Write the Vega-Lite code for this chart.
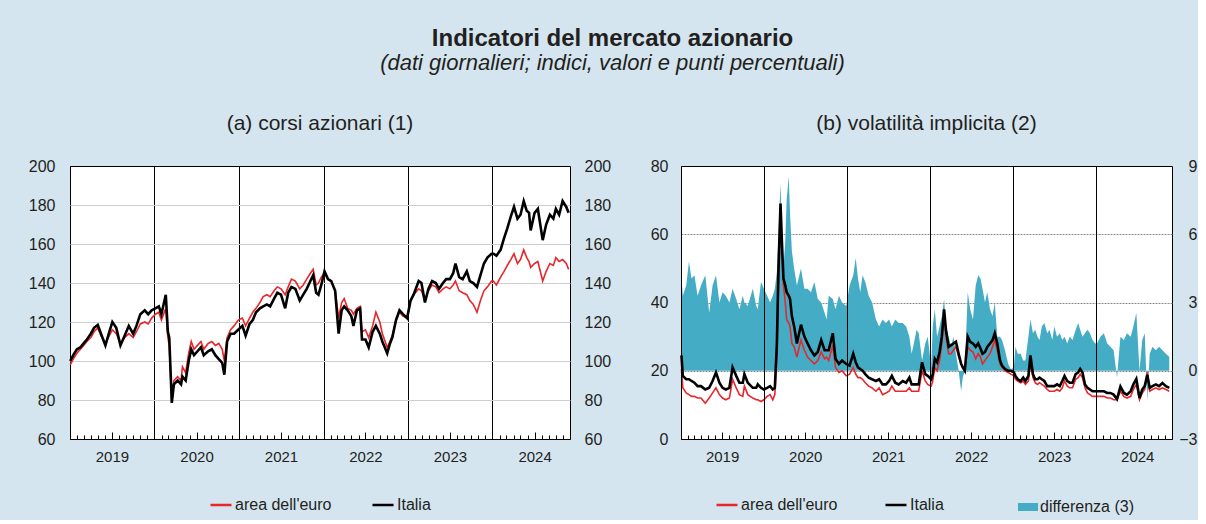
{
  "$schema": "https://vega.github.io/schema/vega-lite/v6.json",
  "background": "#d4e5ef",
  "padding": {"left": 10, "top": 26, "right": 0, "bottom": 0},
  "config": {
    "font": "Liberation Sans",
    "view": {"stroke": "#000000", "strokeWidth": 1, "fill": "#ffffff"},
    "axis": {"labelFont": "Liberation Sans", "labelColor": "#231f20", "labelFontSize": 16, "domain": false, "ticks": false, "grid": false, "title": null, "labelFlush": false},
    "legend": {"labelFont": "Liberation Sans", "labelColor": "#231f20", "labelFontSize": 16, "layout": {"bottom": {"anchor": "middle", "direction": "horizontal", "margin": 70}}},
    "title": {"font": "Liberation Sans", "fontSize": 21, "fontWeight": "normal", "color": "#231f20", "anchor": "middle", "offset": 24},
    "concat": {"spacing": 0}
  },
  "title": {"text": "Indicatori del mercato azionario", "subtitle": "(dati giornalieri; indici, valori e punti percentuali)", "fontSize": 24, "fontWeight": "bold", "color": "#231f20", "subtitleFont": "Liberation Sans", "subtitleFontSize": 22, "subtitleFontStyle": "italic", "subtitleColor": "#231f20", "subtitlePadding": 2, "anchor": "start", "align": "center", "dx": 602, "offset": 39},
  "spacing": 0,
  "resolve": {"scale": {"color": "independent", "fill": "independent"}, "legend": {"color": "independent", "fill": "independent"}},
  "hconcat": [
        {
          "width": 500,
          "height": 273,
          "title": {"text": "(a) corsi azionari (1)"},
          "data": {"values": [
            {"d":"2019-01-02","eu":98,"it":100},{"d":"2019-01-15","eu":101,"it":103},{"d":"2019-01-31","eu":104,"it":106},{"d":"2019-02-15","eu":106,"it":107},
            {"d":"2019-03-01","eu":108,"it":109},{"d":"2019-03-15","eu":110,"it":111},{"d":"2019-04-01","eu":112,"it":114},{"d":"2019-04-15","eu":115,"it":117},
            {"d":"2019-05-01","eu":117,"it":118.5},{"d":"2019-05-15","eu":113,"it":114},{"d":"2019-06-03","eu":109,"it":108},{"d":"2019-06-20","eu":113,"it":115},
            {"d":"2019-07-03","eu":116,"it":120},{"d":"2019-07-20","eu":114,"it":117},{"d":"2019-08-07","eu":109,"it":108},{"d":"2019-08-25","eu":112,"it":113},
            {"d":"2019-09-12","eu":114,"it":118},{"d":"2019-10-01","eu":112,"it":114},{"d":"2019-10-15","eu":115,"it":118},{"d":"2019-11-01","eu":119,"it":124},
            {"d":"2019-11-20","eu":120,"it":126},{"d":"2019-12-05","eu":119,"it":124},{"d":"2019-12-20","eu":122,"it":126},{"d":"2020-01-05","eu":124,"it":127},
            {"d":"2020-01-20","eu":125,"it":128},{"d":"2020-01-31","eu":121,"it":124},{"d":"2020-02-19","eu":127,"it":134},{"d":"2020-02-28","eu":112,"it":115},
            {"d":"2020-03-05","eu":108,"it":112},{"d":"2020-03-16","eu":79,"it":78.5},{"d":"2020-03-25","eu":90,"it":88},{"d":"2020-04-10","eu":92,"it":90},
            {"d":"2020-04-25","eu":90,"it":88},{"d":"2020-05-01","eu":97,"it":92},{"d":"2020-05-15","eu":94,"it":90},{"d":"2020-05-28","eu":104,"it":100},
            {"d":"2020-06-08","eu":110,"it":106},{"d":"2020-06-20","eu":106,"it":103},{"d":"2020-07-05","eu":108,"it":105},{"d":"2020-07-20","eu":110,"it":107},
            {"d":"2020-08-01","eu":106,"it":103},{"d":"2020-08-20","eu":109,"it":105},{"d":"2020-09-05","eu":110,"it":106},{"d":"2020-09-20","eu":108,"it":103},
            {"d":"2020-10-05","eu":109,"it":101},{"d":"2020-10-20","eu":106,"it":99},{"d":"2020-10-29","eu":100,"it":93},{"d":"2020-11-10","eu":112,"it":110},
            {"d":"2020-11-25","eu":116,"it":114},{"d":"2020-12-10","eu":118,"it":114},{"d":"2020-12-28","eu":121,"it":116},{"d":"2021-01-15","eu":122,"it":118},
            {"d":"2021-01-29","eu":118,"it":113},{"d":"2021-02-15","eu":122,"it":119},{"d":"2021-03-01","eu":125,"it":121},{"d":"2021-03-15","eu":127,"it":125},
            {"d":"2021-04-01","eu":130,"it":127},{"d":"2021-04-15","eu":133,"it":128},{"d":"2021-05-01","eu":134,"it":129},{"d":"2021-05-15","eu":133,"it":128},
            {"d":"2021-06-01","eu":136,"it":132},{"d":"2021-06-15","eu":138,"it":135},{"d":"2021-07-01","eu":137,"it":134},{"d":"2021-07-19","eu":134,"it":127},
            {"d":"2021-08-01","eu":138,"it":135},{"d":"2021-08-15","eu":142,"it":138},{"d":"2021-09-01","eu":141,"it":137},{"d":"2021-09-20","eu":137,"it":131},
            {"d":"2021-10-05","eu":139,"it":134},{"d":"2021-10-20","eu":142,"it":137},{"d":"2021-11-05","eu":145,"it":141},{"d":"2021-11-17","eu":147,"it":144},
            {"d":"2021-11-30","eu":139,"it":135},{"d":"2021-12-10","eu":140,"it":134},{"d":"2021-12-22","eu":143,"it":139},{"d":"2022-01-05","eu":145,"it":146},
            {"d":"2022-01-20","eu":142,"it":142},{"d":"2022-02-03","eu":141,"it":141},{"d":"2022-02-20","eu":136,"it":136},{"d":"2022-03-07","eu":122,"it":114},
            {"d":"2022-03-20","eu":130,"it":126},{"d":"2022-03-31","eu":132,"it":128},{"d":"2022-04-15","eu":127,"it":126},{"d":"2022-05-01","eu":126,"it":123},
            {"d":"2022-05-10","eu":124,"it":118},{"d":"2022-05-25","eu":127,"it":126},{"d":"2022-06-08","eu":128,"it":127},{"d":"2022-06-16","eu":115,"it":111},
            {"d":"2022-07-01","eu":116,"it":111},{"d":"2022-07-15","eu":112,"it":107},{"d":"2022-08-01","eu":118,"it":115},{"d":"2022-08-15","eu":125,"it":118},
            {"d":"2022-09-01","eu":120,"it":114},{"d":"2022-09-12","eu":114,"it":110},{"d":"2022-10-03","eu":107,"it":104},{"d":"2022-10-15","eu":110,"it":109},
            {"d":"2022-10-25","eu":113,"it":112},{"d":"2022-11-10","eu":121,"it":121},{"d":"2022-11-25","eu":125,"it":126},{"d":"2022-12-10","eu":123,"it":124},
            {"d":"2022-12-28","eu":122,"it":122},{"d":"2023-01-12","eu":131,"it":131},{"d":"2023-01-25","eu":134,"it":134},{"d":"2023-02-16","eu":137,"it":141},
            {"d":"2023-02-28","eu":136,"it":140},{"d":"2023-03-15","eu":131,"it":130},{"d":"2023-03-30","eu":136,"it":137},{"d":"2023-04-15","eu":139,"it":141},
            {"d":"2023-05-01","eu":138,"it":140},{"d":"2023-05-15","eu":135,"it":137},{"d":"2023-06-01","eu":137,"it":140},{"d":"2023-06-15","eu":138,"it":142},
            {"d":"2023-07-01","eu":137,"it":142},{"d":"2023-07-15","eu":139,"it":145},{"d":"2023-07-25","eu":141,"it":150},{"d":"2023-08-10","eu":136,"it":143},
            {"d":"2023-08-25","eu":135,"it":142},{"d":"2023-09-12","eu":134,"it":146},{"d":"2023-09-25","eu":131,"it":141},{"d":"2023-10-10","eu":129,"it":140},
            {"d":"2023-10-26","eu":125,"it":138},{"d":"2023-11-10","eu":131,"it":144},{"d":"2023-11-25","eu":136,"it":150},{"d":"2023-12-10","eu":138,"it":153},
            {"d":"2023-12-28","eu":141,"it":155},{"d":"2024-01-05","eu":141,"it":155},{"d":"2024-01-18","eu":139,"it":154},{"d":"2024-02-05","eu":143,"it":157},
            {"d":"2024-02-20","eu":146,"it":163},{"d":"2024-03-05","eu":149,"it":168},{"d":"2024-03-20","eu":152,"it":174},{"d":"2024-04-03","eu":155,"it":179},
            {"d":"2024-04-18","eu":150,"it":173},{"d":"2024-05-01","eu":152,"it":175},{"d":"2024-05-15","eu":157,"it":182},{"d":"2024-05-28","eu":153,"it":177},
            {"d":"2024-06-07","eu":151,"it":176},{"d":"2024-06-14","eu":148,"it":167},{"d":"2024-07-01","eu":150,"it":176},{"d":"2024-07-15","eu":151,"it":178},
            {"d":"2024-08-05","eu":141,"it":162},{"d":"2024-08-20","eu":146,"it":170},{"d":"2024-09-05","eu":150,"it":175},{"d":"2024-09-20","eu":149,"it":173},
            {"d":"2024-10-01","eu":153,"it":178},{"d":"2024-10-15","eu":151,"it":175},{"d":"2024-10-30","eu":152,"it":182},{"d":"2024-11-15","eu":150,"it":179},
            {"d":"2024-11-25","eu":147,"it":176}
          ]},
          "layer": [
            {
              "mark": {"type": "line", "strokeWidth": 1.6},
              "encoding": {
                "x": {"field": "d", "type": "temporal", "scale": {"domain": [{"year": 2019, "month": 1, "date": 1}, {"year": 2024, "month": 12, "date": 1}]},
                      "axis": {"orient": "bottom", "tickCount": {"interval": "year", "step": 1}, "grid": true, "gridColor": "#000000", "gridWidth": 1, "labels": false, "ticks": false, "domain": false, "zindex": 0}},
                "y": {"field": "eu", "type": "quantitative", "scale": {"domain": [60, 200], "nice": false, "zero": false},
                      "axis": {"orient": "left", "values": [60, 80, 100, 120, 140, 160, 180, 200], "grid": true, "gridColor": "#cfcfcf", "gridOpacity": {"condition": {"test": "datum.value <= 60 || datum.value >= 200", "value": 0}, "value": 1}, "labelPadding": 15, "minExtent": 59}},
                "color": {"datum": "area dell'euro", "type": "nominal", "scale": {"domain": ["area dell'euro", "Italia"], "range": ["#e8262b", "#000000"]},
                          "legend": {"orient": "bottom", "direction": "horizontal", "title": null, "symbolType": "stroke", "symbolSize": 441, "symbolStrokeWidth": 2.5, "symbolOpacity": 1, "labelOffset": 2, "columnPadding": 35, "offset": 29}}
              }
            },
            {
              "mark": {"type": "line", "strokeWidth": 2.6},
              "encoding": {
                "x": {"field": "d", "type": "temporal", "scale": {"domain": [{"year": 2019, "month": 1, "date": 1}, {"year": 2024, "month": 12, "date": 1}]},
                      "axis": {"orient": "bottom", "tickCount": {"interval": "month", "step": 1}, "grid": false, "labels": false, "ticks": true, "tickSize": -4, "tickColor": "#000000", "tickWidth": 1, "domain": false}},
                "y": {"field": "it", "type": "quantitative", "scale": {"domain": [60, 200], "nice": false, "zero": false},
                      "axis": {"orient": "right", "values": [60, 80, 100, 120, 140, 160, 180, 200], "grid": false, "labelPadding": 14, "minExtent": 50}},
                "color": {"datum": "Italia", "type": "nominal"}
              }
            },
            {
              "data": {"values": [{"d": "2019-07-01"}]},
              "mark": {"type": "rule", "opacity": 0},
              "encoding": {
                "x": {"field": "d", "type": "temporal", "scale": {"domain": [{"year": 2019, "month": 1, "date": 1}, {"year": 2024, "month": 12, "date": 1}]},
                      "axis": {"orient": "bottom", "values": [{"year": 2019, "month": 7, "date": 1}, {"year": 2020, "month": 7, "date": 1}, {"year": 2021, "month": 7, "date": 1}, {"year": 2022, "month": 7, "date": 1}, {"year": 2023, "month": 7, "date": 1}, {"year": 2024, "month": 7, "date": 1}],
                               "grid": false, "labels": false, "ticks": true, "tickSize": -7, "tickColor": "#000000", "tickWidth": 1, "domain": false}}
              }
            },
            {
              "data": {"values": [{"d": "2019-07-01"}]},
              "mark": {"type": "rule", "opacity": 0},
              "encoding": {
                "x": {"field": "d", "type": "temporal", "scale": {"domain": [{"year": 2019, "month": 1, "date": 1}, {"year": 2024, "month": 12, "date": 1}]},
                      "axis": {"orient": "bottom", "values": [{"year": 2019, "month": 7, "date": 1}, {"year": 2020, "month": 7, "date": 1}, {"year": 2021, "month": 7, "date": 1}, {"year": 2022, "month": 7, "date": 1}, {"year": 2023, "month": 7, "date": 1}, {"year": 2024, "month": 7, "date": 1}],
                               "grid": false, "labels": true, "ticks": false, "format": "%Y", "labelFontSize": 15, "labelPadding": 10, "domain": false}}
              }
            }
          ],
          "resolve": {"axis": {"x": "independent", "y": "independent"}}
        },
        {
          "width": 491,
          "height": 273,
          "title": {"text": "(b) volatilità implicita (2)"},
          "data": {"values": [
            {"d":"2019-01-03","eu":20.5,"it":24.5,"df":4.05},{"d":"2019-01-09","eu":15,"it":18.5,"df":3.3},{"d":"2019-01-24","eu":13.5,"it":17.5,"df":3.75},{"d":"2019-02-05","eu":13,"it":17.5,"df":4.8},
            {"d":"2019-02-16","eu":12.5,"it":17,"df":4.05},{"d":"2019-03-01","eu":12.5,"it":16.5,"df":4.2},{"d":"2019-03-15","eu":12,"it":15.5,"df":3.3},{"d":"2019-03-30","eu":12,"it":15.5,"df":3.75},
            {"d":"2019-04-18","eu":10.5,"it":14.5,"df":4.2},{"d":"2019-05-05","eu":12,"it":15,"df":2.55},{"d":"2019-05-20","eu":13.5,"it":17,"df":3.75},{"d":"2019-06-04","eu":15,"it":19.5,"df":4.2},
            {"d":"2019-06-19","eu":13,"it":16.5,"df":3.0},{"d":"2019-07-03","eu":12,"it":15,"df":3.45},{"d":"2019-07-17","eu":11.5,"it":14.5,"df":3.3},{"d":"2019-08-02","eu":12,"it":15,"df":3.0},
            {"d":"2019-08-16","eu":17.5,"it":21,"df":3.6},{"d":"2019-09-01","eu":15,"it":18.5,"df":3.15},{"d":"2019-09-15","eu":13,"it":16.5,"df":2.7},{"d":"2019-09-30","eu":12.5,"it":16.5,"df":3.3},
            {"d":"2019-10-07","eu":15.5,"it":19,"df":3.0},{"d":"2019-10-22","eu":13,"it":16.5,"df":2.85},{"d":"2019-11-13","eu":12,"it":15,"df":3.6},{"d":"2019-11-28","eu":11.5,"it":15,"df":2.85},
            {"d":"2019-12-05","eu":11.5,"it":16,"df":2.7},{"d":"2019-12-19","eu":11,"it":15,"df":3.9},{"d":"2020-01-01","eu":11.5,"it":14.5,"df":3.6},{"d":"2020-01-15","eu":12.5,"it":15,"df":3.3},
            {"d":"2020-01-28","eu":13,"it":15.5,"df":3.0},{"d":"2020-02-09","eu":11.5,"it":14.5,"df":3.3},{"d":"2020-02-18","eu":13,"it":15,"df":3.6},{"d":"2020-02-27","eu":25,"it":28,"df":4.35},
            {"d":"2020-03-05","eu":45,"it":50,"df":6.0},{"d":"2020-03-14","eu":66,"it":69,"df":8.25},{"d":"2020-03-20","eu":55,"it":58,"df":6.3},{"d":"2020-03-27","eu":45,"it":47,"df":4.5},
            {"d":"2020-04-04","eu":40,"it":45,"df":5.7},{"d":"2020-04-10","eu":35,"it":43,"df":7.5},{"d":"2020-04-19","eu":34,"it":42,"df":8.55},{"d":"2020-04-25","eu":33,"it":41,"df":6.9},
            {"d":"2020-05-03","eu":28,"it":36,"df":5.25},{"d":"2020-05-13","eu":27,"it":33,"df":4.5},{"d":"2020-05-25","eu":24,"it":28,"df":3.75},{"d":"2020-06-12","eu":29,"it":33.5,"df":4.5},
            {"d":"2020-06-27","eu":26,"it":30,"df":3.6},{"d":"2020-07-11","eu":24,"it":28,"df":3.6},{"d":"2020-07-26","eu":23,"it":26,"df":3.45},{"d":"2020-08-10","eu":22,"it":24.5,"df":3.9},
            {"d":"2020-08-25","eu":23,"it":25.5,"df":3.15},{"d":"2020-09-09","eu":25.5,"it":29,"df":3.0},{"d":"2020-09-24","eu":23.5,"it":26,"df":2.55},{"d":"2020-10-03","eu":24,"it":26,"df":2.25},
            {"d":"2020-10-12","eu":23,"it":26,"df":3.3},{"d":"2020-10-30","eu":27.5,"it":31,"df":3.15},{"d":"2020-11-11","eu":21,"it":23.5,"df":2.7},{"d":"2020-11-26","eu":19.5,"it":22,"df":3.3},
            {"d":"2020-12-10","eu":20,"it":23,"df":3.0},{"d":"2020-12-28","eu":18.5,"it":22,"df":2.85},{"d":"2021-01-12","eu":19,"it":21.5,"df":3.75},{"d":"2021-01-28","eu":21,"it":25,"df":4.2},
            {"d":"2021-02-08","eu":19,"it":22.5,"df":4.95},{"d":"2021-02-18","eu":18,"it":21,"df":4.05},{"d":"2021-02-28","eu":18,"it":20.5,"df":3.45},{"d":"2021-03-10","eu":17.5,"it":20,"df":4.2},
            {"d":"2021-03-22","eu":16.5,"it":19,"df":3.9},{"d":"2021-04-06","eu":15.5,"it":18,"df":3.3},{"d":"2021-04-21","eu":15,"it":17.5,"df":3.0},{"d":"2021-05-08","eu":14,"it":17,"df":2.25},
            {"d":"2021-05-22","eu":15,"it":17.5,"df":1.95},{"d":"2021-06-06","eu":13,"it":16,"df":2.25},{"d":"2021-06-21","eu":13.5,"it":16,"df":2.1},{"d":"2021-07-05","eu":14,"it":17,"df":2.25},
            {"d":"2021-07-17","eu":15.5,"it":18.5,"df":1.95},{"d":"2021-08-01","eu":14,"it":16.5,"df":2.25},{"d":"2021-08-16","eu":14,"it":16,"df":2.1},{"d":"2021-09-03","eu":14,"it":17,"df":2.1},
            {"d":"2021-09-18","eu":14,"it":16.5,"df":1.95},{"d":"2021-10-02","eu":15,"it":18,"df":1.5},{"d":"2021-10-12","eu":14,"it":16,"df":0.75},{"d":"2021-10-22","eu":14,"it":16,"df":1.2},
            {"d":"2021-11-03","eu":14,"it":16,"df":1.8},{"d":"2021-11-12","eu":14,"it":16,"df":1.65},{"d":"2021-11-27","eu":20,"it":22.5,"df":0.45},{"d":"2021-12-11","eu":17,"it":19,"df":1.2},
            {"d":"2021-12-22","eu":16,"it":18.5,"df":1.5},{"d":"2022-01-06","eu":15.5,"it":17.5,"df":0.15},{"d":"2022-01-13","eu":17,"it":19,"df":1.95},{"d":"2022-01-22","eu":21,"it":23.5,"df":2.7},
            {"d":"2022-02-01","eu":20,"it":22.5,"df":1.5},{"d":"2022-02-12","eu":23,"it":25.5,"df":1.95},{"d":"2022-02-22","eu":28,"it":30,"df":2.4},{"d":"2022-03-04","eu":36.5,"it":38,"df":3.15},
            {"d":"2022-03-12","eu":30,"it":32,"df":1.95},{"d":"2022-03-24","eu":25,"it":27,"df":1.5},{"d":"2022-04-04","eu":25,"it":27.5,"df":1.05},{"d":"2022-04-14","eu":26,"it":28,"df":1.5},
            {"d":"2022-04-25","eu":27,"it":28.5,"df":0.75},{"d":"2022-05-07","eu":24,"it":25,"df":0},{"d":"2022-05-18","eu":22,"it":22,"df":-0.9},{"d":"2022-05-25","eu":21,"it":21,"df":-0.3},
            {"d":"2022-06-03","eu":20,"it":20,"df":0},{"d":"2022-06-16","eu":27,"it":30,"df":3.45},{"d":"2022-06-27","eu":26,"it":28.5,"df":2.7},{"d":"2022-07-09","eu":25.5,"it":28,"df":2.25},
            {"d":"2022-07-21","eu":23.5,"it":27,"df":3.75},{"d":"2022-08-01","eu":25,"it":28,"df":4.2},{"d":"2022-08-11","eu":24,"it":26.5,"df":4.05},{"d":"2022-08-20","eu":22,"it":25,"df":3.6},
            {"d":"2022-08-31","eu":23,"it":25.5,"df":3.0},{"d":"2022-09-10","eu":24,"it":27,"df":3.45},{"d":"2022-09-22","eu":25,"it":28,"df":2.7},{"d":"2022-10-03","eu":27,"it":29,"df":2.4},
            {"d":"2022-10-13","eu":29,"it":31,"df":3.0},{"d":"2022-10-24","eu":26,"it":28,"df":1.5},{"d":"2022-11-05","eu":22,"it":23,"df":1.5},{"d":"2022-11-14","eu":21,"it":21.5,"df":1.35},
            {"d":"2022-11-27","eu":20,"it":20.5,"df":0.9},{"d":"2022-12-11","eu":19.5,"it":20,"df":0.3},{"d":"2022-12-23","eu":19,"it":20,"df":0.05},{"d":"2023-01-05","eu":18.5,"it":19.5,"df":0.15},
            {"d":"2023-01-12","eu":17.5,"it":18.5,"df":1.05},{"d":"2023-01-22","eu":17,"it":17.5,"df":0.75},{"d":"2023-02-04","eu":16.5,"it":17,"df":0.75},{"d":"2023-02-15","eu":17,"it":18,"df":0.45},
            {"d":"2023-02-25","eu":16,"it":17,"df":0.45},{"d":"2023-03-10","eu":17,"it":18.5,"df":1.5},{"d":"2023-03-19","eu":22.5,"it":24.5,"df":2.25},{"d":"2023-03-30","eu":18,"it":19,"df":1.65},
            {"d":"2023-04-09","eu":16.5,"it":17.5,"df":1.8},{"d":"2023-04-19","eu":16,"it":17.5,"df":1.5},{"d":"2023-04-28","eu":16.5,"it":18,"df":1.35},{"d":"2023-05-08","eu":16,"it":17.5,"df":1.95},
            {"d":"2023-05-19","eu":15.5,"it":17,"df":2.1},{"d":"2023-06-01","eu":14.5,"it":15.5,"df":1.65},{"d":"2023-06-11","eu":14,"it":15.5,"df":1.8},{"d":"2023-06-23","eu":14,"it":15.5,"df":1.35},
            {"d":"2023-07-02","eu":14,"it":15.5,"df":1.95},{"d":"2023-07-14","eu":14.5,"it":16,"df":1.5},{"d":"2023-07-26","eu":14,"it":15.5,"df":1.65},{"d":"2023-08-06","eu":15,"it":17,"df":1.35},
            {"d":"2023-08-16","eu":17,"it":18.5,"df":1.5},{"d":"2023-08-28","eu":15.5,"it":17,"df":1.2},{"d":"2023-09-08","eu":15,"it":16.5,"df":1.5},{"d":"2023-09-20","eu":15,"it":16.5,"df":1.35},
            {"d":"2023-10-04","eu":17.5,"it":19,"df":1.8},{"d":"2023-10-15","eu":18,"it":19.5,"df":2.1},{"d":"2023-10-24","eu":19,"it":20.5,"df":1.8},{"d":"2023-11-03","eu":18,"it":19.5,"df":1.5},
            {"d":"2023-11-14","eu":15,"it":16,"df":1.65},{"d":"2023-11-25","eu":13.5,"it":15,"df":1.8},{"d":"2023-12-06","eu":13,"it":14.5,"df":1.65},{"d":"2023-12-17","eu":12.5,"it":14,"df":1.35},
            {"d":"2023-12-29","eu":12.5,"it":14,"df":1.2},{"d":"2024-01-06","eu":12.5,"it":14,"df":1.2},{"d":"2024-01-21","eu":12.5,"it":14,"df":1.5},{"d":"2024-02-05","eu":12.5,"it":14,"df":1.65},
            {"d":"2024-02-20","eu":12,"it":13.5,"df":1.2},{"d":"2024-03-05","eu":12,"it":13.5,"df":1.05},{"d":"2024-03-19","eu":11.5,"it":13,"df":0.9},{"d":"2024-04-03","eu":11.5,"it":11.7,"df":-0.3},
            {"d":"2024-04-18","eu":14,"it":15.4,"df":1.5},{"d":"2024-05-03","eu":12.5,"it":13.5,"df":1.35},{"d":"2024-05-17","eu":12,"it":13,"df":1.65},{"d":"2024-06-02","eu":12.5,"it":14,"df":1.5},
            {"d":"2024-06-14","eu":14.5,"it":16,"df":1.95},{"d":"2024-06-27","eu":16,"it":17.6,"df":2.55},{"d":"2024-07-11","eu":11.5,"it":12,"df":0},{"d":"2024-07-23","eu":13.5,"it":14.5,"df":1.35},
            {"d":"2024-08-03","eu":14.5,"it":15.5,"df":1.65},{"d":"2024-08-14","eu":19.5,"it":18.8,"df":-1.3},{"d":"2024-08-25","eu":14,"it":15,"df":0.75},{"d":"2024-09-06","eu":14.5,"it":15.5,"df":1.05},
            {"d":"2024-09-21","eu":15,"it":16,"df":0.9},{"d":"2024-10-05","eu":14.5,"it":15.5,"df":1.05},{"d":"2024-10-20","eu":15,"it":16.4,"df":0.9},{"d":"2024-11-04","eu":14.5,"it":15.5,"df":0.75},
            {"d":"2024-11-19","eu":14,"it":15,"df":0.6}
          ]},
          "layer": [
            {
              "data": {"values": [{"d": "2019-07-01"}]},
              "mark": {"type": "rule", "opacity": 0},
              "encoding": {
                "x": {"field": "d", "type": "temporal", "scale": {"domain": [{"year": 2019, "month": 1, "date": 1}, {"year": 2024, "month": 12, "date": 1}]},
                      "axis": {"orient": "bottom", "values": [{"year": 2019, "month": 7, "date": 1}, {"year": 2020, "month": 7, "date": 1}, {"year": 2021, "month": 7, "date": 1}, {"year": 2022, "month": 7, "date": 1}, {"year": 2023, "month": 7, "date": 1}, {"year": 2024, "month": 7, "date": 1}],
                               "grid": false, "labels": false, "ticks": true, "tickSize": -7, "tickColor": "#000000", "tickWidth": 1, "domain": false}},
                "color": {"datum": "area dell'euro", "type": "nominal", "scale": {"domain": ["area dell'euro", "Italia"], "range": ["#e8262b", "#000000"]},
                          "legend": {"orient": "bottom", "direction": "horizontal", "title": null, "symbolType": "stroke", "symbolSize": 441, "symbolStrokeWidth": 2.5, "symbolOpacity": 1, "labelOffset": 2, "columnPadding": 42, "offset": 29}}
              }
            },
            {
              "mark": {"type": "area", "opacity": 1},
              "encoding": {
                "x": {"field": "d", "type": "temporal", "scale": {"domain": [{"year": 2019, "month": 1, "date": 1}, {"year": 2024, "month": 12, "date": 1}]},
                      "axis": {"orient": "bottom", "tickCount": {"interval": "year", "step": 1}, "grid": true, "gridColor": "#000000", "gridWidth": 1, "labels": false, "ticks": false, "domain": false, "zindex": 1}},
                "y": {"field": "df", "type": "quantitative", "scale": {"domain": [-3, 9], "nice": false, "zero": false},
                      "axis": {"orient": "right", "values": [-3, 0, 3, 6, 9], "grid": false, "labelAlign": "right", "labelPadding": 25}},
                "y2": {"datum": 0},
                "fill": {"datum": "differenza (3)", "type": "nominal", "scale": {"range": ["#44acc4"]},
                         "legend": {"orient": "bottom", "direction": "horizontal", "title": null, "symbolType": "M-1,-0.4H1V0.4H-1Z", "symbolSize": 400, "symbolStrokeWidth": 0, "symbolOpacity": 1, "labelOffset": 2, "padding": 4, "offset": 29}}
              }
            },
            {
              "mark": {"type": "line", "strokeWidth": 1.6},
              "encoding": {
                "x": {"field": "d", "type": "temporal", "scale": {"domain": [{"year": 2019, "month": 1, "date": 1}, {"year": 2024, "month": 12, "date": 1}]},
                      "axis": {"orient": "bottom", "tickCount": {"interval": "month", "step": 1}, "grid": false, "labels": false, "ticks": true, "tickSize": -4, "tickColor": "#000000", "tickWidth": 1, "domain": false}},
                "y": {"field": "eu", "type": "quantitative", "scale": {"domain": [0, 80], "nice": false, "zero": false},
                      "axis": {"orient": "left", "values": [0, 20, 40, 60, 80], "grid": true, "gridColor": "#8a8a8a", "gridDash": [2, 1], "gridOpacity": {"condition": {"test": "datum.value <= 0 || datum.value >= 80", "value": 0}, "value": 1}, "labelPadding": 13, "minExtent": 59}},
                "color": {"datum": "area dell'euro", "type": "nominal"}
              }
            },
            {
              "mark": {"type": "line", "strokeWidth": 2.6},
              "encoding": {
                "x": {"field": "d", "type": "temporal", "scale": {"domain": [{"year": 2019, "month": 1, "date": 1}, {"year": 2024, "month": 12, "date": 1}]}, "axis": null},
                "y": {"field": "it", "type": "quantitative", "scale": {"domain": [0, 80], "nice": false, "zero": false}, "axis": null},
                "color": {"datum": "Italia", "type": "nominal"}
              }
            },
            {
              "data": {"values": [{"d": "2019-07-01"}]},
              "mark": {"type": "rule", "opacity": 0},
              "encoding": {
                "x": {"field": "d", "type": "temporal", "scale": {"domain": [{"year": 2019, "month": 1, "date": 1}, {"year": 2024, "month": 12, "date": 1}]},
                      "axis": {"orient": "bottom", "values": [{"year": 2019, "month": 7, "date": 1}, {"year": 2020, "month": 7, "date": 1}, {"year": 2021, "month": 7, "date": 1}, {"year": 2022, "month": 7, "date": 1}, {"year": 2023, "month": 7, "date": 1}, {"year": 2024, "month": 7, "date": 1}],
                               "grid": false, "labels": true, "ticks": false, "format": "%Y", "labelFontSize": 15, "labelPadding": 10, "domain": false}}
              }
            }
          ],
          "resolve": {"scale": {"y": "independent"}, "axis": {"x": "independent", "y": "independent"}}
        }
  ]
}
